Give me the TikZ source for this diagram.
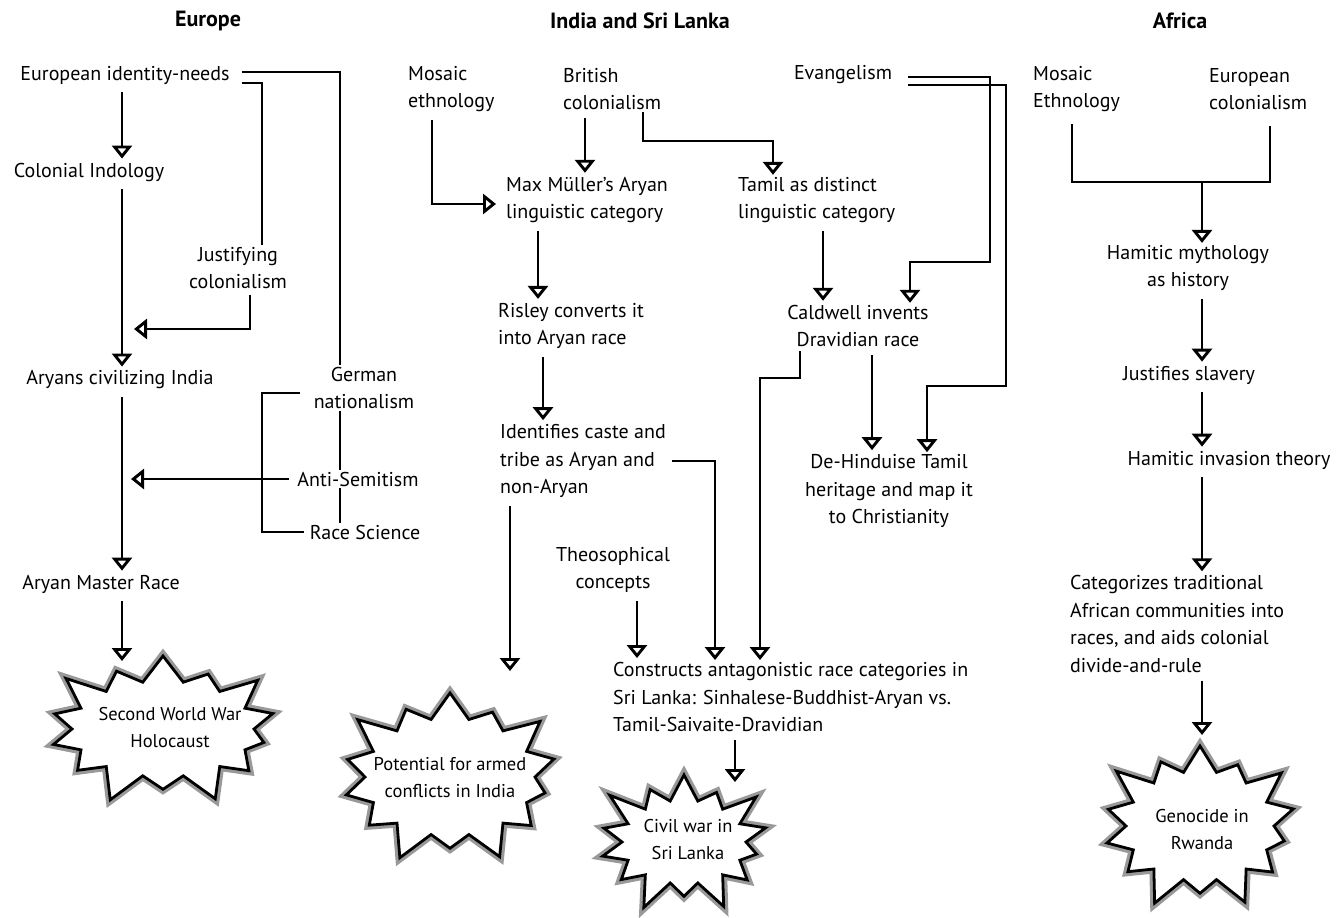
\documentclass[tikz,border=0pt]{standalone}
\usepackage{fontspec}
\setmainfont{PT Sans}
\usetikzlibrary{arrows.meta,shapes.symbols,calc}
\newcommand{\fs}{\fontsize{20}{27.5}\selectfont}
\newcommand{\bs}{\fontsize{18.5}{27}\selectfont}
\newcommand{\hs}{\fontsize{22}{27}\selectfont}
\begin{document}
\begin{tikzpicture}[x=1pt,y=-1pt,
  txt/.style={align=center, inner sep=2pt, font=\fs},
  btxt/.style={align=center, inner sep=2pt, font=\bs},
  ltxt/.style={align=left, inner sep=2pt, font=\fs, anchor=west},
  head/.style={font=\hs\bfseries, inner sep=2pt},
  ln/.style={line width=2.9pt},
  tip/.style={-{Triangle[open, width=20pt, length=13pt, line width=2.9pt]}},
  ar/.style={ln, tip, shorten <=6pt, shorten >=2pt},
  arf/.style={ln, tip},
  burst/.style={starburst, draw=black, line width=2.8pt, fill=white, align=center,
    starburst points=14, starburst point height=35pt, inner sep=0pt,
    preaction={draw=black!40, line width=9pt}},
]
\useasboundingbox (0,0) rectangle (1336,918);
\fill[white] (0,0) rectangle (1336,918);

% headers
\node[head] (hEu) at (208,21) {Europe};
\node[head] (hIn) at (640,21) {India and Sri Lanka};
\node[head] (hAf) at (1180,21) {Africa};

% ---------------- Europe ----------------
\node[txt] (ein) at (125,75) {European identity-needs};
\node[txt] (ci) at (89,172) {Colonial Indology};
\node[txt] (jc) at (238,268) {Justifying\\colonialism};
\node[txt] (aci) at (120,380) {Aryans civilizing India};
\node[txt] (gn) at (364,388) {German\\nationalism};
\node[txt] (as) at (358,479) {Anti-Semitism};
\node[txt] (rs) at (365,532) {Race Science};
\node[txt] (amr) at (101,584) {Aryan Master Race};
\node[burst, minimum width=252pt, minimum height=166pt, shape border rotate=8] (swwb) at (163,729) {};
\node[btxt] (sww) at (170,728) {Second World War\\Holocaust};

\draw[ar] (122,0 |- ein.south) -- (122,0 |- ci.north);
\draw[ar] (122,0 |- ci.south) -- (122,0 |- aci.north);
\draw[ar] (122,0 |- aci.south) -- (122,0 |- amr.north);
\draw[ar] (122,0 |- amr.south) -- (122,663);
\draw[ln] ([xshift=10pt]ein.east |- 0,83) -| ([xshift=24pt]jc.north);
\draw[ln] ([xshift=10pt]ein.east |- 0,72) -| ([xshift=-24pt]gn.north);
\draw[arf] ([xshift=12pt,yshift=-4pt]jc.south) |- (134,329);
\draw[ln] (340,0 |- gn.south) -- (340,0 |- as.north);
\draw[ln] (340,0 |- as.south) -- (340,0 |- rs.north);
\draw[ln] ([xshift=-12pt,yshift=-5pt]gn.west) -| (262,0 |- rs.west) -- ([xshift=-4pt]rs.west);
\draw[arf] ([xshift=-6pt]as.west) -- (131,0 |- as.west);

% ---------------- India and Sri Lanka ----------------
\node[ltxt] (me) at (406,89) {Mosaic\\ethnology};
\node[ltxt] (bc) at (561,89) {British\\colonialism};
\node[txt] (ev) at (843,75) {Evangelism};
\node[ltxt] (mm) at (504,200) {Max Müller’s Aryan\\linguistic category};
\node[ltxt] (tam) at (736,200) {Tamil as distinct\\linguistic category};
\node[ltxt] (ris) at (496,326) {Risley converts it\\into Aryan race};
\node[txt] (cal) at (858,326) {Caldwell invents\\Dravidian race};
\node[txt] (dh) at (889,491) {De-Hinduise Tamil\\heritage and map it\\to Christianity};
\node[ltxt] (ide) at (498,461) {Identifies caste and\\tribe as Aryan and\\non-Aryan};
\node[txt] (theo) at (613,570) {Theosophical\\concepts};
\node[ltxt] (con) at (611,697) {Constructs antagonistic race categories in\\Sri Lanka: Sinhalese-Buddhist-Aryan vs.\\Tamil-Saivaite-Dravidian};
\node[burst, minimum width=240pt, minimum height=188pt, shape border rotate=3] (potb) at (450,777) {};
\node[btxt] (pot) at (450,778) {Potential for armed\\conflicts in India};
\node[burst, minimum width=194pt, minimum height=154pt, shape border rotate=12] (cwb) at (684,842) {};
\node[btxt] (cw) at (688,840) {Civil war in\\Sri Lanka};

\draw[ar] (432,0 |- me.south) |- ([xshift=-6pt,yshift=-4pt]mm.west);
\draw[ar] (585,0 |- bc.south) -- (585,0 |- mm.north);
\draw[arf] (643,0 |- bc.south) |- (773,141) -- (773,0 |- tam.north);
\draw[ar] (538,0 |- mm.south) -- (538,0 |- ris.north);
\draw[ar] (823,0 |- tam.south) -- (823,0 |- cal.north);
\draw[arf] ([xshift=14pt]ev.east |- 0,77) -- (990,77) |- (910,262) -- (910,0 |- cal.north);
\draw[arf] ([xshift=14pt]ev.east |- 0,85) -- (1006,85) |- (927,386) -- (927,0 |- dh.north);
\draw[ar] (872,0 |- cal.south) -- (872,0 |- dh.north);
\draw[arf] ([yshift=-2pt]800,0 |- cal.south) |- (760,378) -- (760,0 |- con.north);
\draw[ar] (543,0 |- ris.south) -- (543,0 |- ide.north);
\draw[arf] ([xshift=4pt]ide.east) -| (715,0 |- con.north);
\draw[ar] (510,0 |- ide.south) -- (510,673);
\draw[ar] (637,0 |- theo.south) -- (637,0 |- con.north);
\draw[ar] (735,0 |- con.south) -- (735,784);

% ---------------- Africa ----------------
\node[ltxt] (ame) at (1031,89) {Mosaic\\Ethnology};
\node[ltxt] (eco) at (1207,89) {European\\colonialism};
\node[txt] (ham) at (1188,268) {Hamitic mythology\\as history};
\node[txt] (js) at (1189,375) {Justifies slavery};
\node[txt] (hit) at (1229,460) {Hamitic invasion theory};
\node[ltxt] (cat) at (1068,624) {Categorizes traditional\\African communities into\\races, and aids colonial\\divide-and-rule};
\node[burst, minimum width=218pt, minimum height=180pt, shape border rotate=6] (genb) at (1200,826) {};
\node[btxt] (gen) at (1202,830) {Genocide in\\Rwanda};

\coordinate (jn) at (1202,182);
\draw[ln] ([yshift=-10pt]1072,0 |- ame.south) |- (jn);
\draw[ln] ([yshift=-14pt]1270,0 |- eco.south) |- (jn);
\draw[arf] (jn) -- (1202,0 |- ham.north);
\draw[ar] (1202,0 |- ham.south) -- (1202,0 |- js.north);
\draw[ar] (1202,0 |- js.south) -- (1202,0 |- hit.north);
\draw[ar] (1202,0 |- hit.south) -- (1202,0 |- cat.north);
\draw[ar] (1202,0 |- cat.south) -- (1202,737);
\end{tikzpicture}
\end{document}
